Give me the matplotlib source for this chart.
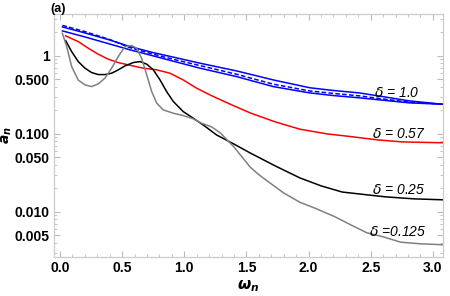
import numpy as np
import matplotlib
matplotlib.use("Agg")
import matplotlib.pyplot as plt
from matplotlib.ticker import FixedLocator, NullFormatter

# delta = 1.0 (three blue curves: two solid, one dashed)
w_b = [0.02, 0.2, 0.4, 0.56, 0.75, 0.93, 1.126, 1.42, 1.716, 2.011, 2.2, 2.41, 2.6, 2.81, 3.08]
a_b1 = [2.35, 1.97, 1.60, 1.32, 1.10, 0.95, 0.806, 0.642, 0.492, 0.39, 0.36, 0.335, 0.30, 0.265, 0.24]
a_bd = [2.46, 2.05, 1.62, 1.28, 1.05, 0.89, 0.751, 0.582, 0.434, 0.355, 0.33, 0.307, 0.28, 0.255, 0.24]
a_b2 = [2.09, 1.75, 1.42, 1.20, 1.00, 0.84, 0.696, 0.543, 0.404, 0.335, 0.31, 0.29, 0.27, 0.25, 0.24]

# delta = 0.57
w_r = [0.046, 0.147, 0.228, 0.308, 0.389, 0.469, 0.549, 0.67, 0.778, 0.885, 0.992, 1.10, 1.207, 1.3, 1.4, 1.53,
       1.73, 1.93, 2.15, 2.35, 2.55, 2.75, 3.08]
a_r = [1.805, 1.525, 1.255, 1.051, 0.907, 0.821, 0.767, 0.696, 0.662, 0.60, 0.492, 0.385, 0.316, 0.27, 0.229, 0.186,
       0.143, 0.115, 0.10, 0.092, 0.084, 0.079, 0.077]

# delta = 0.25
w_k = [0.046, 0.094, 0.147, 0.201, 0.255, 0.308, 0.362, 0.416, 0.469, 0.523, 0.59, 0.644, 0.698, 0.751, 0.805,
       0.858, 0.912, 0.992, 1.072, 1.153, 1.26, 1.4, 1.53, 1.73, 1.93, 2.1, 2.27, 2.45, 2.62, 2.85, 3.08]
a_k = [1.57, 1.135, 0.845, 0.696, 0.611, 0.576, 0.576, 0.60, 0.662, 0.744, 0.821, 0.845, 0.783, 0.662, 0.492,
       0.349, 0.26, 0.193, 0.159, 0.13, 0.097, 0.074, 0.057, 0.039, 0.0273, 0.0216, 0.018, 0.0167, 0.0156, 0.0147, 0.0143]

# delta = 0.125
w_g = [0.019, 0.054, 0.094, 0.147, 0.201, 0.255, 0.308, 0.362, 0.416, 0.469, 0.523, 0.577, 0.617, 0.657, 0.698,
       0.738, 0.778, 0.831, 0.912, 0.992, 1.072, 1.14, 1.22, 1.29, 1.40, 1.53, 1.6, 1.69, 1.8, 1.93, 2.05, 2.21,
       2.35, 2.47, 2.6, 2.74, 2.9, 3.08]
a_g = [1.95, 1.32, 0.73, 0.49, 0.425, 0.404, 0.438, 0.518, 0.696, 0.98, 1.316, 1.356, 1.255, 0.934, 0.571,
       0.349, 0.248, 0.203, 0.184, 0.172, 0.156, 0.137, 0.123, 0.103, 0.068, 0.0376, 0.030, 0.0235, 0.0175, 0.0133,
       0.0112, 0.0087, 0.0067, 0.0054, 0.0048, 0.0041, 0.0039, 0.0038]

labels = [r"$\delta$ = 1.0", r"$\delta$ = 0.57", r"$\delta$ = 0.25", r"$\delta$ =0.125"]
label_pos = [(2.53, 0.336), (2.51, 0.1), (2.51, 0.0192), (2.49, 0.0055)]

yticks = [0.005, 0.01, 0.05, 0.1, 0.5, 1]
yticklabels = ["0.005", "0.010", "0.050", "0.100", "0.500", "1"]

plt.rcParams["font.family"] = ["Liberation Sans", "DejaVu Sans"]
plt.rcParams["mathtext.fontset"] = "dejavusans"

fig = plt.figure(figsize=(4.5, 2.96), dpi=100)
ax = fig.add_axes([0.12, 0.132, 0.864, 0.821])

lw = 1.1
ax.plot(w_b, a_b1, color="blue", lw=lw)
ax.plot(w_b, a_b2, color="blue", lw=lw)
ax.plot(w_b, a_bd, color="blue", lw=lw, ls=(0, (3, 1.5)))
ax.plot(w_r, a_r, color="red", lw=lw)
ax.plot(w_k, a_k, color="black", lw=lw)
ax.plot(w_g, a_g, color="gray", lw=lw)

ax.set_yscale("log")
ax.set_xlim(-0.048, 3.08)
ax.set_ylim(0.00265, 3.45)

for s in ax.spines.values():
    s.set_color("#cccccc")
    s.set_linewidth(0.9)

ax.set_xticks(np.arange(0, 3.01, 0.5))
ax.set_xticklabels(["0.0", "0.5", "1.0", "1.5", "2.0", "2.5", "3.0"])
ax.xaxis.set_minor_locator(FixedLocator(np.arange(0, 3.09, 0.1)))
ax.yaxis.set_major_locator(FixedLocator(yticks))
ax.set_yticklabels(yticklabels)
minor = []
for d in [0.001, 0.01, 0.1, 1]:
    for m in range(1, 10):
        v = d * m
        if v not in yticks and 0.00265 < v < 3.45:
            minor.append(v)
ax.yaxis.set_minor_locator(FixedLocator(minor))
ax.yaxis.set_minor_formatter(NullFormatter())

ax.tick_params(which="both", direction="in", top=True, right=True, color="#bbbbbb")
ax.tick_params(which="major", length=4, labelsize=10, pad=3)
ax.tick_params(which="minor", length=2.2)
for t in ax.get_xticklabels() + ax.get_yticklabels():
    t.set_fontweight("bold")

ax.set_ylabel(r"$\mathbfit{a}_\mathbfit{n}$", fontsize=10, labelpad=2)
ax.yaxis.set_label_coords(-0.104, 0.5)
ax.set_xlabel(r"$\mathbfit{\omega}_\mathbfit{n}$", fontsize=11, labelpad=2)

for txt, (x, y) in zip(labels, label_pos):
    ax.text(x, y, txt, fontsize=10, style="italic", va="center", ha="left")

fig.text(0.111, 0.99, "(a)", fontsize=9, fontweight="bold", va="top")

fig.savefig("out.png", dpi=100)
